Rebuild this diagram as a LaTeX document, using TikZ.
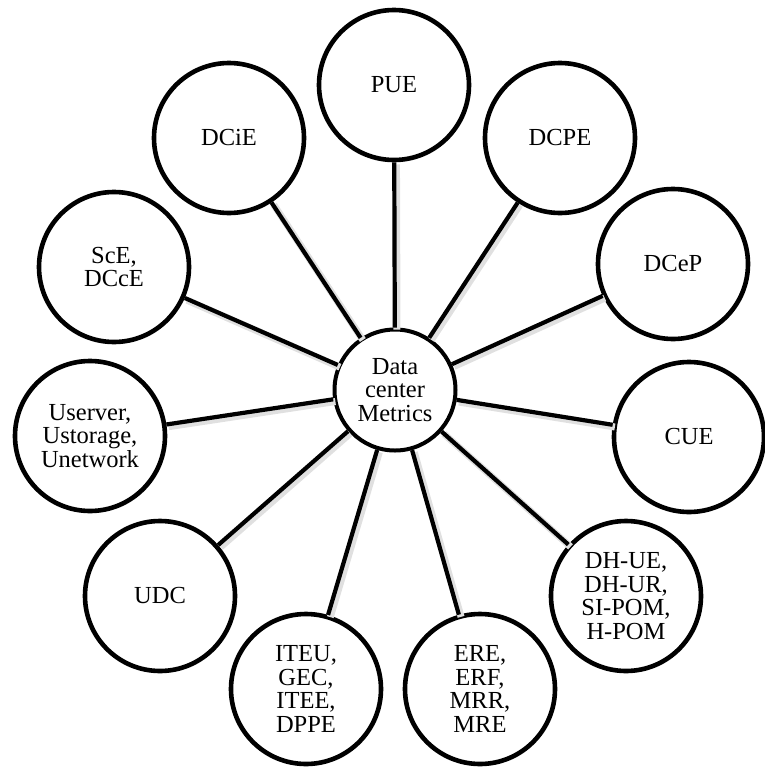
\documentclass[tikz,border=0pt]{standalone}
\usepackage{fontspec}
\setmainfont{Liberation Serif}
\usepackage{tikz}
\usetikzlibrary{positioning}

\tikzset{
  metric/.style = {circle, draw, line width=4.6pt, fill=white, inner sep=0pt,
                   minimum size=150pt, align=center,
                   font=\fontsize{24.5pt}{23.6pt}\selectfont},
  hub/.style = {metric, line width=4pt, minimum size=121pt},
  spoke/.style = {line width=4.2pt},
  spoke_shadow/.style = {line width=7pt, black!12,
                   transform canvas={xshift=2.2pt, yshift=-2.2pt}}
}

\begin{document}
\begin{tikzpicture}[x=1pt, y=-1pt]
\useasboundingbox (0,0) rectangle (765,769);

\node[hub] (dc_metrics) at (395,390){Data\\center\\Metrics};

\node[metric] (pue) at (394,85){PUE};
\node[metric] (dcpe) at (560,138){DCPE};
\node[metric] (dcep) at (673,264){DCeP};
\node[metric] (cue) at (689,437){CUE};
\node[metric] (dh_ue) at (626,596){DH-UE,\\DH-UR,\\SI-POM,\\H-POM};
\node[metric] (ere) at (480,689){ERE,\\ERF,\\MRR,\\MRE};
\node[metric] (iteu) at (306,689){ITEU,\\GEC,\\ITEE,\\DPPE};
\node[metric] (udc) at (160,596){UDC};
\node[metric] (userver) at (90,436){Userver,\\Ustorage,\\Unetwork};
\node[metric] (sce) at (114,267){ScE,\\DCcE};
\node[metric] (dcie) at (229,138){DCiE};

% soft shadow under the spokes
\draw[spoke_shadow] (dc_metrics)--(pue) (dc_metrics)--(dcpe) (dc_metrics)--(dcep)
  (dc_metrics)--(cue) (dc_metrics)--(dh_ue) (dc_metrics)--(ere) (dc_metrics)--(iteu)
  (dc_metrics)--(udc) (dc_metrics)--(userver) (dc_metrics)--(sce) (dc_metrics)--(dcie);

\draw[spoke] (dc_metrics)--(pue);
\draw[spoke] (dc_metrics)--(dcpe);
\draw[spoke] (dc_metrics)--(dcep);
\draw[spoke] (dc_metrics)--(cue);
\draw[spoke] (dc_metrics)--(dh_ue);
\draw[spoke] (dc_metrics)--(ere);
\draw[spoke] (dc_metrics)--(iteu);
\draw[spoke] (dc_metrics)--(udc);
\draw[spoke] (dc_metrics)--(userver);
\draw[spoke] (dc_metrics)--(sce);
\draw[spoke] (dc_metrics)--(dcie);
\end{tikzpicture}
\end{document}
